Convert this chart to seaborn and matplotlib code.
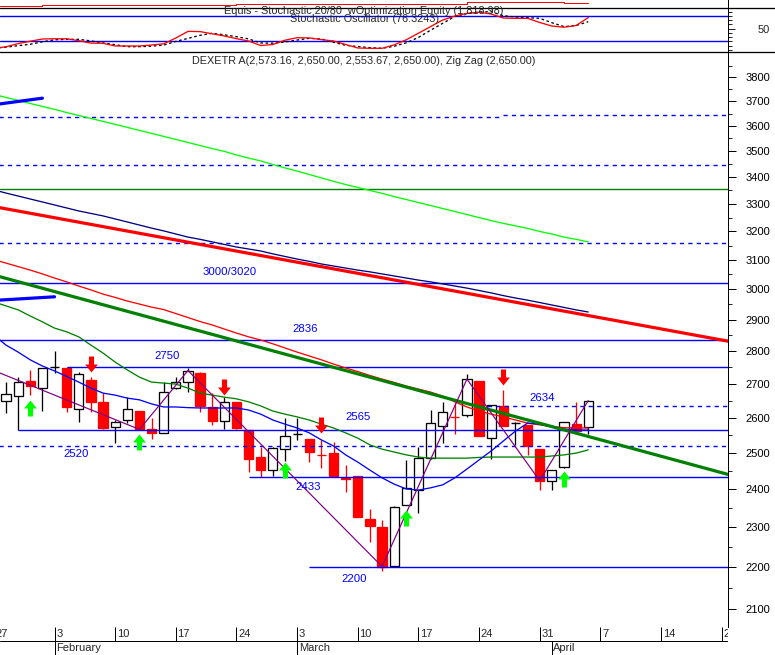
import numpy as np
import pandas as pd
import matplotlib
matplotlib.use('Agg')
import matplotlib.pyplot as plt
import seaborn as sns
from matplotlib.path import Path
from matplotlib.lines import Line2D
from matplotlib.ticker import FixedLocator, NullFormatter

# ------------------------------------------------------------------ data
calendar = pd.bdate_range('2003-01-27', '2003-04-25')      # trading-day axis
days = pd.bdate_range('2003-01-27', '2003-04-04')          # indicator days
candle_days = days[1:]                                     # Jan 28 .. Apr 4

candle_open = [2649, 2664, 2709, 2686, 2752, 2749, 2624, 2711, 2646, 2572,
               2593, 2619, 2566, 2555, 2686, 2706, 2733, 2632, 2590, 2646,
               2564, 2487, 2452, 2510, 2552, 2539, 2495, 2500, 2430, 2436,
               2322, 2300, 2204, 2359, 2398, 2484, 2577, 2603, 2608, 2708,
               2541, 2634, 2585, 2579, 2510, 2423, 2460, 2581, 2573.16]
candle_high = [2706, 2721, 2742, 2748, 2799, 2750, 2735, 2721, 2671, 2593,
               2661, 2619, 2598, 2706, 2721, 2749, 2735, 2671, 2661, 2647,
               2565, 2515, 2515, 2598, 2598, 2540, 2536, 2531, 2466, 2437,
               2347, 2320, 2355, 2480, 2517, 2622, 2646, 2642, 2729, 2709,
               2638, 2681, 2586, 2580, 2511, 2453, 2587, 2646, 2650.00]
candle_low = [2614, 2564, 2666, 2620, 2732, 2617, 2588, 2617, 2567, 2528,
              2583, 2566, 2539, 2555, 2684, 2676, 2617, 2579, 2566, 2567,
              2448, 2434, 2436, 2478, 2536, 2475, 2457, 2434, 2394, 2326,
              2262, 2190, 2203, 2358, 2337, 2483, 2526, 2553, 2603, 2547,
              2482, 2575, 2522, 2494, 2397, 2397, 2459, 2560, 2553.67]
candle_close = [2669, 2704, 2694, 2747, 2752, 2632, 2729, 2646, 2569, 2586,
                2624, 2566, 2555, 2674, 2706, 2740, 2635, 2591, 2646, 2569,
                2483, 2452, 2514, 2547, 2552, 2501, 2493, 2436, 2428, 2328,
                2305, 2202, 2354, 2403, 2484, 2583, 2615, 2601, 2714, 2548,
                2637, 2577, 2585, 2519, 2423, 2452, 2586, 2562, 2650.00]

ma_lime = [3729, 3716, 3704, 3691, 3679, 3667, 3654, 3642, 3630, 3618,
           3606, 3594, 3582, 3570, 3558, 3546, 3534, 3522, 3510, 3499,
           3485, 3473, 3462, 3448, 3435, 3423, 3410, 3397, 3384, 3372,
           3361, 3350, 3339, 3327, 3316, 3305, 3294, 3283, 3272, 3261,
           3250, 3239, 3229, 3220, 3211, 3200, 3191, 3180, 3172, 3163]
ma_navy = [3352, 3340, 3329, 3318, 3307, 3296, 3285, 3274, 3265, 3256,
           3245, 3234, 3223, 3212, 3202, 3191, 3180, 3172, 3163, 3154,
           3145, 3138, 3131, 3121, 3112, 3103, 3095, 3086, 3079, 3072,
           3065, 3059, 3052, 3045, 3038, 3031, 3025, 3018, 3011, 3004,
           2996, 2988, 2979, 2971, 2964, 2956, 2948, 2940, 2932, 2925]
ma_red = [3101, 3089, 3077, 3065, 3052, 3038, 3025, 3011, 2998, 2984,
          2973, 2961, 2951, 2941, 2933, 2920, 2907, 2894, 2883, 2870,
          2857, 2845, 2835, 2823, 2810, 2797, 2785, 2773, 2760, 2748,
          2737, 2725, 2714, 2704, 2693, 2684, 2675, 2663, 2646, 2631,
          2619, 2610, 2602, 2593, 2584, 2579, 2574, 2571, 2570, 2570]
ma_green = [2958, 2945, 2932, 2912, 2893, 2873, 2861, 2845, 2819, 2794,
            2766, 2742, 2720, 2705, 2702, 2699, 2687, 2672, 2666, 2660,
            2655, 2646, 2634, 2619, 2610, 2602, 2593, 2581, 2570, 2556,
            2541, 2522, 2510, 2502, 2494, 2488, 2485, 2485, 2485, 2485,
            2487, 2488, 2488, 2488, 2488, 2488, 2491, 2494, 2499, 2508]
ma_blue = [2851, 2819, 2797, 2773, 2754, 2739, 2722, 2705, 2687, 2672,
           2666, 2657, 2652, 2640, 2631, 2631, 2629, 2628, 2628, 2628,
           2628, 2622, 2610, 2593, 2581, 2570, 2556, 2536, 2519, 2494,
           2474, 2452, 2431, 2414, 2401, 2398, 2404, 2412, 2431, 2455,
           2480, 2505, 2533, 2561, 2584, 2581, 2573, 2567, 2564, 2564]

zigzag_days = ['2003-01-27', '2003-02-12', '2003-02-18', '2003-03-12',
               '2003-03-21', '2003-03-31', '2003-04-04']
zigzag_vals = [2740, 2566, 2740, 2202, 2714, 2423, 2650]

stoch_k = [3, 7, 14.5, 20.2, 25.5, 26, 26, 21.4, 15.7, 15.3,
           8.9, 8.9, 8.9, 11.2, 14, 27.8, 43.5, 43, 37.8, 32.6,
           26.2, 20.7, 10, 12.4, 22.6, 28.5, 28, 24, 20.7, 12.4,
           4.1, 3.4, 3.4, 11.5, 23.6, 39.2, 54.9, 70.5, 80, 86.4,
           89, 84.7, 75.2, 74.5, 74.5, 64.6, 56.3, 53.4, 57.5, 76.3]
stoch_d = [4, 6, 9.6, 12.9, 18.8, 23.6, 24.7, 24.7, 21, 16,
           12, 7.2, 7.2, 8.4, 11, 19.8, 26.9, 34.2, 39, 35.4,
           30.9, 25.7, 16, 15.5, 18.3, 23, 27.1, 25.5, 17.8, 10.5,
           7.7, 4.8, 3.4, 8.2, 16.4, 29.2, 46.3, 62.7, 78.8, 85.8,
           89.7, 90.2, 80.7, 77.6, 76, 74.5, 64.1, 54.9, 57.5, 66.5]
equity = [1784, 1784, 1784, 1784,
          1790, 1790, 1790, 1790, 1790, 1790, 1790,
          1797, 1797, 1797, 1797, 1797, 1797, 1797, 1797, 1797,
          1803, 1803, 1803, 1803, 1803, 1803, 1803,
          1810, 1810, 1810, 1810, 1810, 1810, 1810, 1810, 1810, 1810, 1810, 1810,
          1840, 1840, 1840, 1840, 1840, 1840, 1840, 1840,
          1819, 1819, 1819]

buy_days = ['2003-01-30', '2003-02-12', '2003-02-28', '2003-03-14', '2003-04-02']
buy_marks = [2628, 2531, 2451, 2324, 2427]
sell_days = ['2003-02-06', '2003-02-21', '2003-03-05', '2003-03-26']
sell_marks = [2761, 2689, 2579, 2720]

# trendlines: (start day, start value, end day, end value)
trend_red = ('2003-01-27', 3290, '2003-04-22', 2828)
trend_dkgreen = ('2003-01-27', 3048, '2003-04-22', 2436)
trend_blue1 = ('2003-01-27', 3686, '2003-01-31', 3713)
trend_blue2 = ('2003-01-27', 2963, '2003-02-03', 2975)

solid_levels = [3020, 2836, 2750, 2565, 2433, 2200]
solid_from = ['2003-01-27', '2003-01-27', '2003-02-04', '2003-01-29',
              '2003-02-25', '2003-03-04']
dashed_levels = [3635, 3645, 3447, 3158, 2634, 2520]
dashed_from = ['2003-01-27', '2003-03-26', '2003-01-27', '2003-01-27',
               '2003-03-24', '2003-01-27']
dashed_to = ['2003-03-26', '2003-04-25', '2003-04-25', '2003-04-25',
             '2003-04-25', '2003-04-25']
green_level = 3355

level_texts = ['3000/3020', '2836', '2750', '2634', '2565', '2520', '2433', '2200']

price_ticks = list(range(2100, 3900, 100))
tick_mondays = pd.date_range('2003-01-27', '2003-04-21', freq='W-MON')
month_starts = ['2003-02-03', '2003-03-03', '2003-04-01']
month_names = ['February', 'March', 'April']

# ------------------------------------------------------------------ helpers
def P(d):
    return calendar.get_loc(pd.Timestamp(d))

PX = 0.72
W, H = 775, 655
XMIN, XMAX = 0.505, 60.52

sns.set_style('white')
plt.rcParams['font.family'] = ['Liberation Sans', 'DejaVu Sans']

fig = plt.figure(figsize=(W / 100, H / 100), dpi=100)
fig.patch.set_facecolor('white')


def box(x0, y0, x1, y1):
    return [x0 / W, 1 - y1 / H, (x1 - x0) / W, (y1 - y0) / H]


ax_eq = fig.add_axes(box(0, 0, 728, 8.3))
ax_st = fig.add_axes(box(0, 8.3, 728, 52.3))
ax = fig.add_axes(box(0, 52.3, 728, 626.7))
ax_dt = fig.add_axes(box(0, 626.7, 728, 655))

for a in (ax_eq, ax_st, ax, ax_dt):
    a.set_xlim(XMIN, XMAX)
    a.set_facecolor('white')
    for s in a.spines.values():
        s.set_visible(False)
        s.set_color('black')
        s.set_linewidth(PX)

pos_days = np.array([P(d) for d in days])
pos_c = np.array([P(d) for d in candle_days])

# ------------------------------------------------------------------ equity panel
ax_eq.set_ylim(1753, 1862)
sns.lineplot(x=pos_days, y=equity, ax=ax_eq, color='#ff0000', lw=PX,
             drawstyle='steps-post', estimator=None, sort=False, legend=False)
ax_eq.spines['right'].set_visible(True)
ax_eq.set_xticks([])
ax_eq.set_yticks([])
ax_eq.set_xlabel('')
ax_eq.set_ylabel('')

# ------------------------------------------------------------------ stochastic panel
ax_st.set_ylim(-6.1, 98.3)
ax_st.axhline(80, color='#0000ff', lw=PX * 1.4)
ax_st.axhline(20, color='#0000ff', lw=PX * 1.4)
sns.lineplot(x=pos_days, y=stoch_d, ax=ax_st, color='black', lw=PX * 1.3,
             linestyle=(0, (2, 2)), estimator=None, sort=False, legend=False)
sns.lineplot(x=pos_days, y=stoch_k, ax=ax_st, color='#ff0000', lw=PX * 1.3,
             estimator=None, sort=False, legend=False)
ax_st.spines['right'].set_visible(True)
ax_st.set_xticks([])
ax_st.yaxis.tick_right()
ax_st.set_yticks([50])
ax_st.set_yticklabels(['50'])
ax_st.yaxis.set_minor_locator(FixedLocator([0, 10, 20, 30, 40, 60, 70, 80, 90]))
ax_st.yaxis.set_minor_formatter(NullFormatter())
ax_st.tick_params(axis='y', which='major', direction='out', length=6.7 * PX,
                  width=PX, pad=(770 - 728 - 6.7) * PX, labelsize=8)
ax_st.tick_params(axis='y', which='minor', direction='out', length=4 * PX, width=PX)
for lbl in ax_st.get_yticklabels():
    lbl.set_horizontalalignment('right')
ax_st.set_xlabel('')
ax_st.set_ylabel('')

# ------------------------------------------------------------------ main price panel
ax.set_yscale('log')
ax.set_ylim(2059, 3908)
BLUE = '#0000ff'

# candles
c_o = np.array(candle_open, float)
c_h = np.array(candle_high, float)
c_l = np.array(candle_low, float)
c_c = np.array(candle_close, float)
up = c_c > c_o
dn = c_c < c_o
dj = c_c == c_o
wick_col = np.where(dn, '#ff0000', 'black')
ax.vlines(pos_c, c_l, c_h, colors=list(wick_col), lw=PX * 1.3, zorder=2)
BW = 0.76
ax.bar(pos_c[up], (c_c - c_o)[up], bottom=c_o[up], width=BW, color='white',
       edgecolor='black', linewidth=PX * 1.3, zorder=3)
ax.bar(pos_c[dn], (c_o - c_c)[dn], bottom=c_c[dn], width=BW, color='#ff0000',
       edgecolor='#ff0000', linewidth=PX * 1.3, zorder=3)
ax.hlines(c_o[dj], pos_c[dj] - BW / 2, pos_c[dj] + BW / 2, colors='black',
          lw=PX * 1.4, zorder=3)

# horizontal levels
for v, d0 in zip(solid_levels, solid_from):
    ax.hlines(v, P(d0), 62, colors=BLUE, lw=PX * 1.4, zorder=4)
for v, d0, d1 in zip(dashed_levels, dashed_from, dashed_to):
    ax.hlines(v, P(d0), P(d1), colors=BLUE, lw=PX * 1.4,
              linestyles=(0, (3, 3)), zorder=4)
ax.axhline(green_level, color='#008000', lw=PX * 1.4, zorder=4)

# moving averages
for vals, col in [(ma_lime, '#00ff00'), (ma_navy, '#000080'), (ma_red, '#ff0000'),
                  (ma_green, '#008000'), (ma_blue, '#0000ff')]:
    sns.lineplot(x=pos_days, y=vals, ax=ax, color=col, lw=PX * 1.3,
                 estimator=None, sort=False, legend=False, zorder=5)

# trendlines
for (d0, v0, d1, v1), col, lw in [(trend_red, '#ff0000', 3.2), (trend_dkgreen, '#008000', 3.2),
                                  (trend_blue1, '#0000ff', 3.2), (trend_blue2, '#0000ff', 3.2)]:
    sns.lineplot(x=[P(d0), P(d1)], y=[v0, v1], ax=ax, color=col, lw=lw * PX,
                 estimator=None, sort=False, legend=False, zorder=6)

# zig zag
sns.lineplot(x=[P(d) for d in zigzag_days], y=zigzag_vals, ax=ax, color='#800080',
             lw=PX * 1.2, estimator=None, sort=False, legend=False, zorder=6)

# signal arrows
up_arrow = Path([(0, 0.5), (0.4, 0.0), (0.16, 0.0), (0.16, -0.5), (-0.16, -0.5),
                 (-0.16, 0.0), (-0.4, 0.0), (0, 0.5)],
                [Path.MOVETO] + [Path.LINETO] * 6 + [Path.CLOSEPOLY])
dn_arrow = Path([(0, -0.5), (0.4, 0.0), (0.16, 0.0), (0.16, 0.5), (-0.16, 0.5),
                 (-0.16, 0.0), (-0.4, 0.0), (0, -0.5)],
                [Path.MOVETO] + [Path.LINETO] * 6 + [Path.CLOSEPOLY])
ax.scatter([P(d) for d in buy_days], buy_marks, marker=up_arrow, s=132,
           color='#00ff00', linewidths=0, zorder=8)
ax.scatter([P(d) for d in sell_days], sell_marks, marker=dn_arrow, s=132,
           color='#ff0000', linewidths=0, zorder=8)

# level annotations (position: trading-day, price)
text_pos = [(19.4, 3058), (25.7, 2870), (14.25, 2785), (45.2, 2656),
            (30.0, 2602), (6.75, 2496), (25.9, 2407), (29.7, 2172)]
for t, (xp, yp) in zip(level_texts, text_pos):
    ax.text(xp, yp, t, color=BLUE, fontsize=8.2, ha='center', va='center', zorder=9)

ax.spines['top'].set_visible(True)
ax.spines['right'].set_visible(True)
ax.spines['bottom'].set_visible(True)
ax.set_xticks([])
ax.yaxis.tick_right()
ax.set_yticks(price_ticks)
ax.set_yticklabels([str(t) for t in price_ticks])
ax.yaxis.set_minor_locator(FixedLocator(list(range(2150, 3950, 100))))
ax.yaxis.set_minor_formatter(NullFormatter())
ax.tick_params(axis='y', which='major', direction='out', length=8 * PX, width=PX,
               pad=(770 - 728 - 8) * PX, labelsize=8, colors='black')
ax.tick_params(axis='y', which='minor', direction='out', length=4 * PX, width=PX)
for lbl in ax.get_yticklabels():
    lbl.set_horizontalalignment('right')
ax.set_xlabel('')
ax.set_ylabel('')

# ------------------------------------------------------------------ date band
ax_dt.set_ylim(28.3, 0)
tick_pos = [P(d) for d in tick_mondays]
ax_dt.vlines(tick_pos, 0, 14, colors='black', lw=PX)
ax_dt.axhline(14, color='black', lw=PX)
month_pos = [P(d) for d in month_starts]
ax_dt.vlines(month_pos, 14, 28.3, colors='black', lw=PX)
for tp, d in zip(tick_pos, tick_mondays):
    ax_dt.text(tp + 0.13, 7.3, str(d.day), ha='left', va='center', fontsize=8,
               clip_on=True)
for mp, name in zip(month_pos, month_names):
    ax_dt.text(mp + 0.13, 21.5, name, ha='left', va='center', fontsize=8, clip_on=True)
ax_dt.set_xticks([])
ax_dt.set_yticks([])

# ------------------------------------------------------------------ frame lines & titles
for yy in (8.3, 52.3):
    fig.add_artist(Line2D([0, 1], [1 - yy / H] * 2, color='black', lw=PX * 1.3,
                          transform=fig.transFigure))

fig.text(364 / W, 1 - 10.7 / H,
         'Equis - Stochastic 20/80  wOptimization Equity (1,818.98)',
         ha='center', va='center', fontsize=7.8)
fig.text(364 / W, 1 - 18.6 / H, 'Stochastic Oscillator (76.3243)',
         ha='center', va='center', fontsize=7.8)
fig.text(364 / W, 1 - 61 / H,
         'DEXETR A(2,573.16, 2,650.00, 2,553.67, 2,650.00), Zig Zag (2,650.00)',
         ha='center', va='center', fontsize=7.8)

fig.savefig('out.png', dpi=100, facecolor='white')
